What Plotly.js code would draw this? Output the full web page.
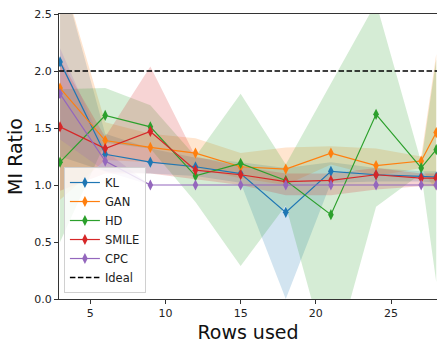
<!DOCTYPE html>
<html>
<head>
<meta charset="utf-8">
<script src="https://cdn.plot.ly/plotly-3.0.1.min.js"></script>
<style>
html,body{margin:0;padding:0;background:#fff;}
#chart{width:437px;height:343px;}
</style>
</head>
<body>
<div id="chart"></div>
<script>
// Rows used
const rows = [3, 6, 9, 12, 15, 18, 21, 24, 27, 28];

// Mean MI ratio per estimator
const klMean    = [2.08, 1.27, 1.20, 1.16, 1.10, 0.76, 1.12, 1.09, 1.075, 1.07];
const ganMean   = [1.85, 1.39, 1.33, 1.28, 1.16, 1.14, 1.28, 1.17, 1.21, 1.46];
const hdMean    = [1.20, 1.61, 1.51, 1.08, 1.19, 1.04, 0.74, 1.62, 1.15, 1.31];
const smileMean = [1.51, 1.32, 1.47, 1.13, 1.09, 1.03, 1.04, 1.09, 1.06, 1.06];
const cpcMean   = [1.80, 1.21, 1.00, 1.00, 1.00, 1.00, 1.00, 1.00, 1.00, 1.00];

// Band bounds
const klUp    = [2.90, 1.45, 1.32, 1.24, 1.20, 1.15, 1.20, 1.15, 1.12, 1.12];
const klLo    = [1.25, 1.12, 1.10, 1.08, 1.02, 0.00, 1.02, 1.03, 1.03, 1.02];
const ganUp   = [2.90, 1.55, 1.45, 1.41, 1.28, 1.33, 1.34, 1.32, 1.25, 2.15];
const ganLo   = [0.87, 1.22, 1.20, 1.15, 1.06, 1.00, 1.18, 1.08, 1.15, 0.95];
const hdUp    = [1.84, 1.85, 1.70, 1.25, 1.80, 1.18, 1.89, 2.60, 1.20, 2.10];
const hdLo    = [0.50, 1.37, 1.32, 0.85, 0.29, 0.82, -0.62, 0.81, 1.10, 0.15];
const smileUp = [2.10, 1.42, 2.04, 1.25, 1.16, 1.10, 1.10, 1.15, 1.10, 1.10];
const smileLo = [0.95, 1.10, 1.10, 1.05, 1.00, 0.91, 0.91, 0.96, 0.99, 0.99];
const cpcUp   = [2.20, 1.30, 1.00, 1.00, 1.00, 1.00, 1.00, 1.00, 1.00, 1.00];
const cpcLo   = [1.40, 1.12, 1.00, 1.00, 1.00, 1.00, 1.00, 1.00, 1.00, 1.00];

const idealValue = 2.0;

const names  = ['KL', 'GAN', 'HD', 'SMILE', 'CPC'];
const means  = [klMean, ganMean, hdMean, smileMean, cpcMean];
const ups    = [klUp, ganUp, hdUp, smileUp, cpcUp];
const los    = [klLo, ganLo, hdLo, smileLo, cpcLo];
const colors = ['#1f77b4', '#ff7f0e', '#2ca02c', '#d62728', '#9467bd'];
const fills  = ['rgba(31,119,180,0.2)', 'rgba(255,127,14,0.2)', 'rgba(44,160,44,0.2)', 'rgba(214,39,40,0.2)', 'rgba(148,103,189,0.2)'];

const traces = [];
for (let i = 0; i < names.length; i++) {
  traces.push({
    x: rows, y: los[i], type: 'scatter', mode: 'lines',
    line: {width: 0, color: fills[i]}, showlegend: false, hoverinfo: 'skip'
  });
  traces.push({
    x: rows, y: ups[i], type: 'scatter', mode: 'lines',
    line: {width: 0, color: fills[i]}, fill: 'tonexty', fillcolor: fills[i],
    showlegend: false, hoverinfo: 'skip'
  });
}
for (let i = 0; i < names.length; i++) {
  traces.push({
    x: rows, y: means[i], type: 'scatter', mode: 'lines+markers', name: names[i],
    line: {color: colors[i], width: 1.2},
    marker: {symbol: 'diamond-tall', size: 8, color: colors[i]}
  });
}
traces.push({
  x: [rows[0] - 0.1, rows[rows.length - 1] + 0.1], y: [idealValue, idealValue],
  type: 'scatter', mode: 'lines', name: 'Ideal',
  line: {color: '#000', width: 1.5, dash: '5.5px,2.5px'}
});

const layout = {
  width: 437, height: 343,
  margin: {l: 59, r: 0, t: 14, b: 44},
  paper_bgcolor: '#fff', plot_bgcolor: '#fff',
  font: {family: 'DejaVu Sans', color: '#222', size: 11},
  showlegend: true,
  legend: {
    x: 0.013, y: 0.021, xanchor: 'left', yanchor: 'bottom',
    traceorder: 'normal',
    bgcolor: 'rgba(255,255,255,0.8)', bordercolor: '#d0d0d0', borderwidth: 1,
    font: {size: 11.5, family: 'DejaVu Sans', color: '#222'},
    tracegroupgap: 0, itemwidth: 30
  },
  xaxis: {
    range: [2.93, 28.05], tickvals: [5, 10, 15, 20, 25], ticktext: ['5', '10', '15', '20', '25'],
    showgrid: false, zeroline: false, showline: true, linecolor: '#333', linewidth: 1,
    mirror: true, ticks: 'outside', ticklen: 4, tickcolor: '#333',
    title: {text: 'Rows used', font: {size: 19, family: 'DejaVu Sans', color: '#111'}, standoff: 8}
  },
  yaxis: {
    range: [0, 2.5], tickvals: [0, 0.5, 1.0, 1.5, 2.0, 2.5], ticktext: ['0.0', '0.5', '1.0', '1.5', '2.0', '2.5'],
    showgrid: false, zeroline: false, showline: true, linecolor: '#333', linewidth: 1,
    ticks: 'outside', ticklen: 4, tickcolor: '#333',
    title: {text: 'MI Ratio', font: {size: 19, family: 'DejaVu Sans', color: '#111'}, standoff: 6}
  }
};

Plotly.newPlot('chart', traces, layout, {staticPlot: true, displayModeBar: false});
</script>
</body>
</html>
